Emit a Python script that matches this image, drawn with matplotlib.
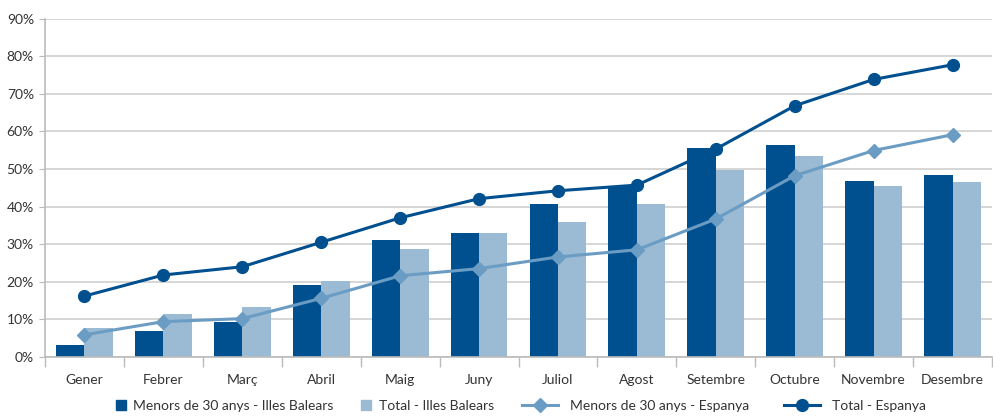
import matplotlib
matplotlib.use("Agg")
import matplotlib.pyplot as plt
import numpy as np
from matplotlib.lines import Line2D
from matplotlib.ticker import FixedLocator, PercentFormatter

# Data (percentages)
months = ["Gener", "Febrer", "Març", "Abril", "Maig", "Juny",
          "Juliol", "Agost", "Setembre", "Octubre", "Novembre", "Desembre"]
menors_balears = [3.2, 6.9, 9.2, 19.1, 31.1, 33.0, 40.7, 45.2, 55.6, 56.3, 46.8, 48.4]
total_balears = [7.6, 11.4, 13.3, 20.2, 28.7, 33.0, 35.9, 40.7, 49.7, 53.5, 45.5, 46.5]
menors_espanya = [5.9, 9.4, 10.2, 15.6, 21.6, 23.5, 26.6, 28.5, 36.7, 48.2, 54.9, 59.1]
total_espanya = [16.2, 21.8, 24.0, 30.5, 37.0, 42.1, 44.2, 45.7, 55.3, 66.8, 73.8, 77.7]
series_names = ["Menors de 30 anys - Illes Balears", "Total - Illes Balears",
                "Menors de 30 anys - Espanya", "Total - Espanya"]

DARK = "#00508F"
LIGHT = "#9BBAD4"
MID = "#6B9CC4"
GRID = "#CFCFCF"
TEXT = "#333333"

plt.rcParams["font.family"] = ["Lato", "DejaVu Sans"]

fig = plt.figure(figsize=(9.93, 4.19), dpi=100)
ax = fig.add_axes([45 / 993, 1 - 357 / 419, 947 / 993, (357 - 18.5) / 419])

x = np.arange(len(months))
w = 0.36
ax.bar(x - w / 2, menors_balears, width=w, color=DARK, zorder=2)
ax.bar(x + w / 2, total_balears, width=w, color=LIGHT, zorder=2)
l1, = ax.plot(x, menors_espanya, color=MID, lw=2.2, marker="D", ms=7.5, zorder=3)
l2, = ax.plot(x, total_espanya, color=DARK, lw=2.2, marker="o", ms=8.5, zorder=4)

ax.set_xlim(-0.5, len(months) - 0.5)
ax.set_ylim(0, 90)
ax.yaxis.set_major_locator(FixedLocator(np.arange(0, 91, 10)))
ax.yaxis.set_major_formatter(PercentFormatter(decimals=0))
ax.grid(axis="y", color=GRID, lw=1.2, zorder=0)
ax.set_axisbelow(True)

ax.set_xticks(x)
ax.set_xticklabels(months)
ax.xaxis.set_minor_locator(FixedLocator(np.arange(-0.5, len(months), 1)))
ax.tick_params(axis="x", which="major", length=0, pad=12, labelsize=10, labelcolor=TEXT)
ax.tick_params(axis="x", which="minor", length=7, color="#BBBBBB", width=1)
ax.tick_params(axis="y", length=4, color="#BBBBBB", labelsize=10, labelcolor=TEXT, pad=4)

for s in ["top", "right"]:
    ax.spines[s].set_visible(False)
for s in ["left", "bottom"]:
    ax.spines[s].set_color("#BBBBBB")
    ax.spines[s].set_linewidth(1.2)

# legend: bars as small squares, lines with markers
bar_handles = [Line2D([], [], ls="none", marker="s", ms=7, color=DARK),
               Line2D([], [], ls="none", marker="s", ms=7, color=LIGHT)]
fig.legend(bar_handles, series_names[:2], loc="center left", ncol=2,
           frameon=False, fontsize=10, labelcolor=TEXT,
           bbox_to_anchor=(116 / 993, 13 / 419), handlelength=0.7,
           handletextpad=0.55, columnspacing=2.0, borderpad=0, borderaxespad=0)
fig.legend([l1, l2], series_names[2:], loc="center left", ncol=2,
           frameon=False, fontsize=10, labelcolor=TEXT,
           bbox_to_anchor=(522 / 993, 13 / 419), handlelength=2.6,
           handletextpad=0.85, columnspacing=2.5, borderpad=0, borderaxespad=0)

fig.savefig("out.png", dpi=100)
